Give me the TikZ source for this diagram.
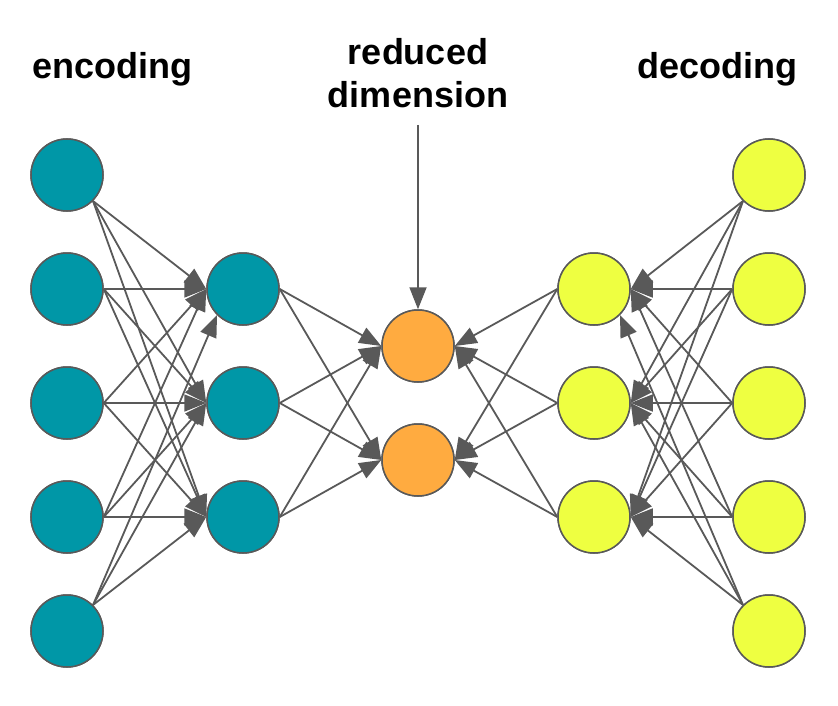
\documentclass[tikz,border=0pt]{standalone}
\usepackage{fontspec}
\setmainfont{Liberation Sans}
\usetikzlibrary{arrows.meta}
\definecolor{linegray}{HTML}{595959}
\definecolor{tealfill}{HTML}{0097A7}
\definecolor{orangefill}{HTML}{FFAB40}
\definecolor{yellowfill}{HTML}{EEFF41}
\tikzset{
  neuron/.style={circle, draw=linegray, line width=1.5pt, minimum size=72pt, inner sep=0pt},
  encnode/.style={neuron, fill=tealfill},
  midnode/.style={neuron, fill=orangefill},
  decnode/.style={neuron, fill=yellowfill},
  conn/.style={draw=linegray, line width=1.8pt, -{Triangle[length=22pt,width=17pt]}},
  label/.style={font=\bfseries\fontsize{36}{44}\selectfont, align=center, inner sep=0pt}
}
\begin{document}
\begin{tikzpicture}[x=1pt,y=-1pt]
\useasboundingbox (0,0) rectangle (838,706);
% labels
\node[label, anchor=base] (enc) at (112,79) {encoding};
\node[label, anchor=base] (red) at (418,65) {reduced};
\node[label, anchor=base] (dim) at (418,108) {dimension};
\node[label, anchor=base] (dec) at (717,79) {decoding};
\coordinate (arrtop) at (418,125);
% nodes
\foreach \k/\y in {1/175,2/289,3/403,4/517,5/631}{
  \node[encnode] (i\k) at (67,\y) {};
  \node[decnode] (o\k) at (769,\y) {};
}
\foreach \k/\y in {1/289,2/403,3/517}{
  \node[encnode] (h\k) at (243,\y) {};
  \node[decnode] (r\k) at (594,\y) {};
}
\node[midnode] (m1) at (418,346) {};
\node[midnode] (m2) at (418,460) {};
% encoder connections
\foreach \s/\sa in {1/south east,2/east,3/east,4/east,5/north east}{
  \foreach \t in {1,2,3}{
    \ifnum\s=5 \ifnum\t=1
      \draw[conn] (i\s.\sa) -- (h\t.south west);
    \else
      \draw[conn] (i\s.\sa) -- (h\t.west);
    \fi\else
      \draw[conn] (i\s.\sa) -- (h\t.west);
    \fi
  }
}
% decoder connections
\foreach \s/\sa in {1/south west,2/west,3/west,4/west,5/north west}{
  \foreach \t in {1,2,3}{
    \ifnum\s=5 \ifnum\t=1
      \draw[conn] (o\s.\sa) -- (r\t.south east);
    \else
      \draw[conn] (o\s.\sa) -- (r\t.east);
    \fi\else
      \draw[conn] (o\s.\sa) -- (r\t.east);
    \fi
  }
}
% to the bottleneck
\foreach \t in {1,2,3}{
  \foreach \m in {1,2}{
    \draw[conn] (h\t.east) -- (m\m.west);
    \draw[conn] (r\t.west) -- (m\m.east);
  }
}
\draw[conn] (arrtop) -- (m1.north);
% redraw nodes on top
\foreach \k/\y in {1/175,2/289,3/403,4/517,5/631}{
  \node[encnode] at (67,\y) {};
  \node[decnode] at (769,\y) {};
}
\foreach \k/\y in {1/289,2/403,3/517}{
  \node[encnode] at (243,\y) {};
  \node[decnode] at (594,\y) {};
}
\node[midnode] at (418,346) {};
\node[midnode] at (418,460) {};
\end{tikzpicture}
\end{document}
